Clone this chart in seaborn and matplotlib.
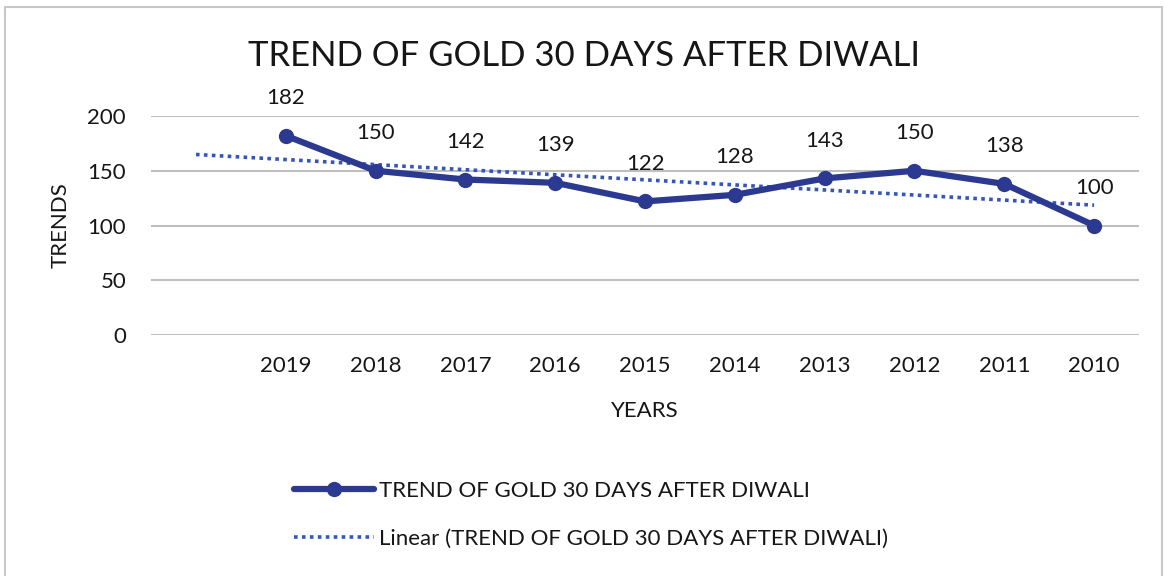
import numpy as np
import pandas as pd
import matplotlib
matplotlib.use("Agg")
import matplotlib.pyplot as plt
import seaborn as sns
from matplotlib.patches import Rectangle

anios = ["2019", "2018", "2017", "2016", "2015", "2014", "2013", "2012", "2011", "2010"]
valores = [182, 150, 142, 139, 122, 128, 143, 150, 138, 100]
marcas_y = [0, 50, 100, 150, 200]
nombre_serie = "TREND OF GOLD 30 DAYS AFTER DIWALI"

sns.set_theme(style="white")
plt.rcParams["font.family"] = ["Lato", "DejaVu Sans"]

# la primera categoria del eje esta vacia, como en el grafico original
posiciones = np.arange(1, len(anios) + 1)
tabla = pd.DataFrame({"pos": posiciones, "valor": valores})

# tendencia lineal sobre todas las categorias
pendiente, corte = np.polyfit(posiciones, valores, 1)
pos_tendencia = np.arange(0, len(anios) + 1)
tabla_tend = pd.DataFrame({"pos": pos_tendencia, "valor": pendiente * pos_tendencia + corte})

color_linea = "#2B3990"
color_tend = "#3556B8"
color_texto = "#161616"

fig = plt.figure(figsize=(11.71, 5.76), dpi=100)
ax = fig.add_axes([0.129, 0.4184, 0.8437, 0.3802])

for v in marcas_y:
    ax.axhline(v, color="#BFBFBF", lw=1.5, zorder=0)

sns.lineplot(data=tabla, x="pos", y="valor", ax=ax, color=color_linea, lw=4.5,
             marker="o", markersize=11, markeredgewidth=0, label=nombre_serie,
             zorder=3)
sns.lineplot(data=tabla_tend, x="pos", y="valor", ax=ax, color=color_tend, lw=2.6,
             linestyle=(0, (1, 1.2)), label="Linear (" + nombre_serie + ")", zorder=2)

for p, v in zip(posiciones, valores):
    ax.annotate(str(v), (p, v), xytext=(0, 27), textcoords="offset points",
                ha="center", va="center", fontsize=16, color=color_texto,
                annotation_clip=False)

ax.set_xlim(-0.5, len(anios) + 0.5)
ax.set_ylim(0, 200)
ax.set_xticks(posiciones, anios)
ax.set_yticks(marcas_y)
ax.tick_params(axis="x", labelsize=16, colors=color_texto, pad=15, length=0)
ax.tick_params(axis="y", labelsize=16, colors=color_texto, pad=18, length=0)
for lado in ax.spines.values():
    lado.set_visible(False)

ax.set_xlabel("YEARS", fontsize=16, color=color_texto, labelpad=18)
ax.set_ylabel("TRENDS", fontsize=16, color=color_texto, labelpad=12)

fig.text(0.4985, 0.903, nombre_serie, ha="center", va="center", fontsize=25,
         color=color_texto)

leyenda = ax.legend(loc="upper left", bbox_to_anchor=(0.136, -0.625), frameon=False,
                    fontsize=16, handlelength=3.6, handletextpad=0.2,
                    labelspacing=1.25, borderaxespad=0)
for t in leyenda.get_texts():
    t.set_color(color_texto)

fig.patches.append(Rectangle((5 / 1171, -0.05), 1157 / 1171, 1.05 - 7 / 576,
                             transform=fig.transFigure, fill=False,
                             edgecolor="#C8C8C8", lw=1.5))

fig.savefig("out.png", dpi=100)
plt.close()
